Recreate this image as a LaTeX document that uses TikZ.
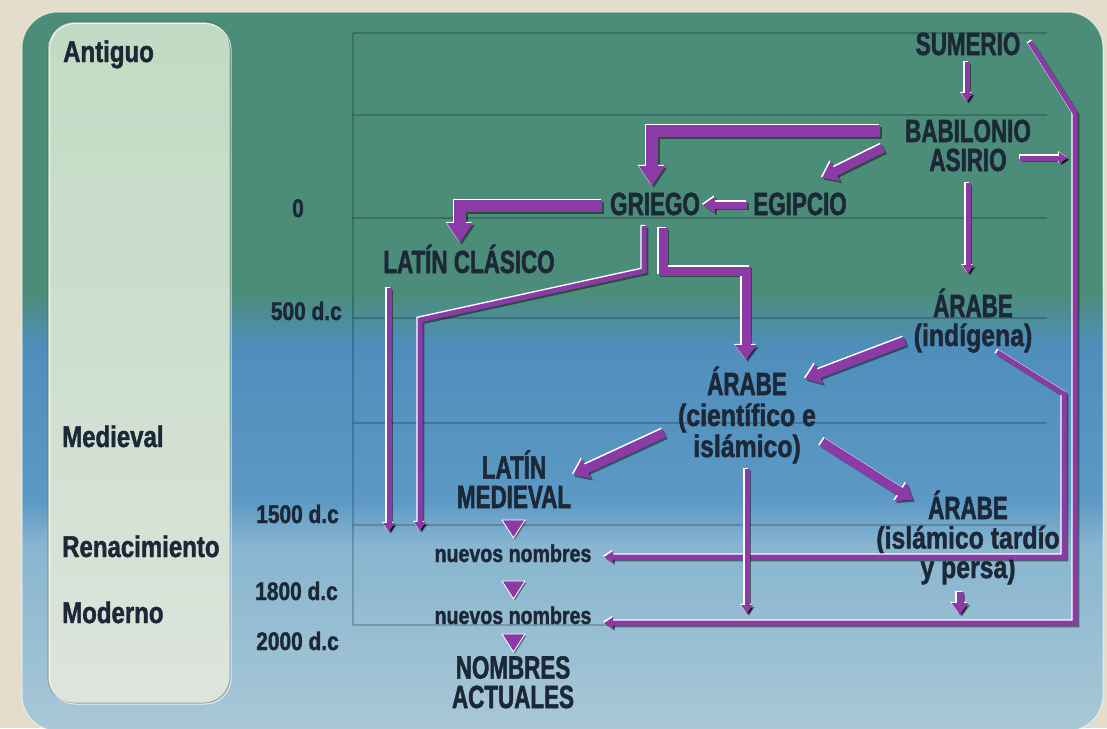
\documentclass[tikz,border=0pt]{standalone}
\usepackage{fontspec}
\usetikzlibrary{arrows.meta}
\newfontfamily\fcap{Liberation Sans Bold}[FakeStretch=0.70,FakeBold=1.6]
\newfontfamily\flow{Liberation Sans Bold}[FakeStretch=0.80,FakeBold=1.4]
\newfontfamily\fdat{Liberation Sans Bold}[FakeStretch=0.82,FakeBold=1.4]
\newcommand\capsz[1]{\fcap\fontsize{32}{#1}\selectfont}
\newcommand\lowsz[1]{\flow\fontsize{31}{#1}\selectfont}
\definecolor{ink}{HTML}{1C2838}
\definecolor{arrc}{HTML}{8B3AA6}
\definecolor{cream}{HTML}{E4DDCB}
\definecolor{bgGreen}{HTML}{4B8D78}
\definecolor{bgBlueA}{HTML}{4F8EBB}
\definecolor{bgBlueB}{HTML}{5C99C5}
\definecolor{bgBlueC}{HTML}{88B5D0}
\definecolor{bgBlueD}{HTML}{A9C8D6}
\definecolor{panTop}{HTML}{C0DBC3}
\definecolor{panMid}{HTML}{D3E1D6}
\definecolor{panBot}{HTML}{DDE4DC}
\tikzset{
  txcap/.style={anchor=base, inner sep=0pt, text=ink, align=center, font=\capsz{32}},
  txper/.style={anchor=base west, inner sep=0pt, text=ink, font=\flow\fontsize{30}{30}\selectfont},
  txdat/.style={anchor=base east, inner sep=0pt, text=ink, font=\fdat\fontsize{25.5}{25.5}\selectfont},
  txnn/.style={anchor=base, inner sep=0pt, text=ink, font=\flow\fontsize{24.5}{24.5}\selectfont},
  gridl/.style={draw=black, draw opacity=0.2, line width=1.1pt},
  arrbase/.style={draw=arrc, line join=miter},
  fatarr/.style={arrbase, line width=12pt, -{Triangle[width=25pt,length=20pt]}},
  medarr/.style={arrbase, line width=9pt, -{Triangle[width=21pt,length=15pt]}},
  smlarr/.style={arrbase, line width=7pt, -{Triangle[width=16pt,length=12pt]}},
  thnarr/.style={arrbase, line width=5pt, -{Triangle[width=11pt,length=9pt]}},
  tribox/.style={fill=arrc, draw=white, line width=0.8pt, line join=round},
}
% connector with shadow and highlight, drawn three times
\newcommand\hlarrow[2]{%
  \begin{scope}[transform canvas={shift={(1.8pt,-1.8pt)}}]
    \draw[#1, draw=black, draw opacity=0.45] #2;
  \end{scope}
  \begin{scope}[transform canvas={shift={(-1.2pt,1.2pt)}}]
    \draw[#1, draw=white] #2;
  \end{scope}
  \draw[#1] #2;}
\begin{document}
\begin{tikzpicture}[x=1pt,y=-1pt]
\useasboundingbox (0,0) rectangle (1107,728);
\fill[cream] (0,0) rectangle (1107,728);
% main panel
\begin{scope}
\clip[rounded corners=36pt] (22,12) rectangle (1103,731);
\fill[bgGreen] (22,12) rectangle (1103,292);
\shade[top color=bgGreen, bottom color=bgBlueA] (22,292) rectangle (1103,345);
\shade[top color=bgBlueA, bottom color=bgBlueB] (22,345) rectangle (1103,500);
\shade[top color=bgBlueB, bottom color=bgBlueC] (22,500) rectangle (1103,545);
\shade[top color=bgBlueC, bottom color=bgBlueD] (22,545) rectangle (1103,731);
\end{scope}
\draw[white, draw opacity=0.6, line width=1pt, rounded corners=36pt] (22,12) rectangle (1103,731);
% left panel
\shade[rounded corners=26pt, top color=panTop, middle color=panMid, bottom color=panBot]
  (48,22) rectangle (230,703);
\draw[black, draw opacity=0.25, line width=1pt, rounded corners=26pt] (48,22) rectangle (230,703);
\draw[white, draw opacity=0.7, line width=1pt, rounded corners=26pt] (49.5,23.5) rectangle (231,704);
% grid
\foreach \yy in {33,115,218,318,423,525,625}
  \draw[gridl] (353,\yy) -- (1047,\yy);
\draw[gridl] (353,33) -- (353,625);
% period labels
\node[txper] (pant) at (63,62) {Antiguo};
\node[txper] (pmed) at (62,447) {Medieval};
\node[txper] (pren) at (62,557) {Renacimiento};
\node[txper] (pmod) at (62,623) {Moderno};
% dates
\node[txdat, anchor=base] (d0) at (298,217) {0};
\node[txdat] (d500) at (342,320) {500 d.c};
\node[txdat] (d1500) at (339,523) {1500 d.c};
\node[txdat] (d1800) at (338,600) {1800 d.c};
\node[txdat] (d2000) at (339,650) {2000 d.c};
% language nodes (anchor = baseline of last line)
\node[txcap] (sum) at (968,55) {SUMERIO};
\node[txcap, font=\capsz{29}] (bab) at (968,171) {BABILONIO\\ASIRIO};
\node[txcap] (egi) at (800,215) {EGIPCIO};
\node[txcap] (gri) at (655,215) {GRIEGO};
\node[txcap] (lcl) at (469,273) {LATÍN CLÁSICO};
\node[txcap, font=\capsz{29}] (ari) at (973,346) {ÁRABE\\\lowsz{29}(indígena)};
\node[txcap, font=\capsz{31}] (arc) at (747,457)
  {ÁRABE\\\lowsz{31}(científico e\\\lowsz{30}islámico)};
\node[txcap, font=\capsz{29.5}] (lme) at (514,508) {LATÍN\\MEDIEVAL};
\node[txnn] (nn1) at (513,562) {nuevos nombres};
\node[txnn] (nn2) at (513,624) {nuevos nombres};
\node[txcap, font=\capsz{29.5}] (nac) at (513,708) {NOMBRES\\ACTUALES};
\node[txcap, font=\capsz{29.5}] (ait) at (968,578)
  {ÁRABE\\\lowsz{29.5}(islámico tardío\\\lowsz{27}y persa)};
% connector points
\coordinate (sumS) at (967,62);
\coordinate (babN) at (967,102);
\coordinate (sumE) at (1030,42);
\coordinate (sumK) at (1075,113);
\coordinate (nn2E) at (604,623);
\coordinate (ariE) at (997,352);
\coordinate (ariK) at (1064,394);
\coordinate (nn1E) at (604,557);
\coordinate (babE) at (1020,158);
\coordinate (babR) at (1068,158);
\coordinate (babW) at (880,131);
\coordinate (griN) at (652,186);
\coordinate (babSW) at (883,148);
\coordinate (egiNE) at (822,178);
\coordinate (egiW) at (747,205);
\coordinate (griE) at (703,205);
\coordinate (griW) at (602,206);
\coordinate (lclN) at (460,243);
\coordinate (griS1) at (644,226);
\coordinate (gK1) at (644,271);
\coordinate (gK2) at (420,320);
\coordinate (g1500) at (420,531);
\coordinate (lclS) at (389,288);
\coordinate (l1500) at (389,532);
\coordinate (griS2) at (663,228);
\coordinate (gK3) at (705,271);
\coordinate (arcN) at (746,360);
\coordinate (ariW) at (905,341);
\coordinate (arcNE) at (805,379);
\coordinate (babS) at (968,183);
\coordinate (ariN) at (968,274);
\coordinate (arcW) at (664,433);
\coordinate (lmeE) at (573,475);
\coordinate (arcE) at (822,442);
\coordinate (aitN) at (913,500);
\coordinate (arcS) at (747,469);
\coordinate (arcB) at (747,614);
\coordinate (aitS) at (960,592);
\coordinate (aitB) at (960,615);
% connectors
\hlarrow{thnarr}{(sumE) -- (sumK) |- (nn2E)}
\hlarrow{thnarr}{(ariE) -- (ariK) |- (nn1E)}
\hlarrow{thnarr}{(sumS) -- (babN)}
\hlarrow{thnarr}{(babE) -- (babR)}
\hlarrow{fatarr}{(babW) -| (griN)}
\hlarrow{medarr}{(babSW) -- (egiNE)}
\hlarrow{smlarr}{(egiW) -- (griE)}
\hlarrow{fatarr}{(griW) -| (lclN)}
\hlarrow{thnarr}{(griS1) -- (gK1) -- (gK2) -- (g1500)}
\hlarrow{thnarr}{(lclS) -- (l1500)}
\hlarrow{medarr}{(griS2) |- (gK3) -| (arcN)}
\hlarrow{medarr}{(ariW) -- (arcNE)}
\hlarrow{thnarr}{(babS) -- (ariN)}
\hlarrow{medarr}{(arcW) -- (lmeE)}
\hlarrow{medarr}{(arcE) -- (aitN)}
\hlarrow{thnarr}{(arcS) -- (arcB)}
\hlarrow{smlarr}{(aitS) -- (aitB)}
% small triangles between stages
\fill[black, opacity=0.4] (503.5,521.5) -- (526.5,521.5) -- (515,539.5) -- cycle;
\draw[tribox] (502,520) -- (525,520) -- (513.5,538) -- cycle;
\fill[black, opacity=0.4] (503.5,582.5) -- (526.5,582.5) -- (515,600.5) -- cycle;
\draw[tribox] (502,581) -- (525,581) -- (513.5,599) -- cycle;
\fill[black, opacity=0.4] (503.5,635.5) -- (526.5,635.5) -- (515,653.5) -- cycle;
\draw[tribox] (502,634) -- (525,634) -- (513.5,652) -- cycle;
\end{tikzpicture}
\end{document}
